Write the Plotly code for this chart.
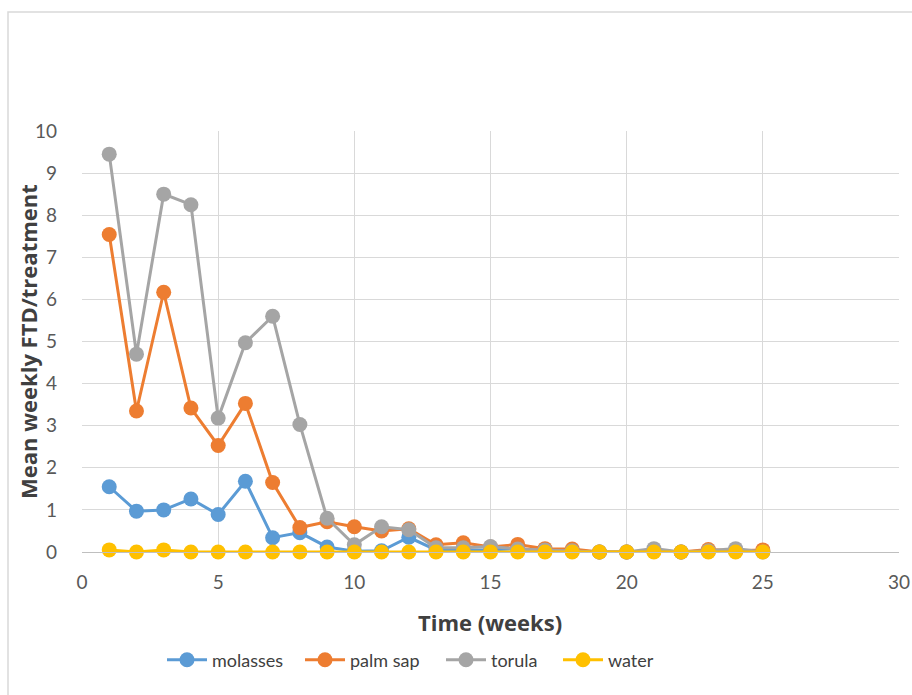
import plotly.graph_objects as go

weeks = list(range(1, 26))
molasses = [1.55, 0.97, 1.0, 1.26, 0.89, 1.68, 0.34, 0.46, 0.12, 0.02, 0.03, 0.35, 0.05, 0.05, 0.05, 0.08, 0.03, 0.03, 0.0, 0.0, 0.03, 0.0, 0.02, 0.03, 0.02]
palm_sap = [7.54, 3.35, 6.17, 3.42, 2.53, 3.53, 1.65, 0.58, 0.72, 0.6, 0.5, 0.55, 0.17, 0.22, 0.12, 0.18, 0.08, 0.07, 0.0, 0.0, 0.03, 0.0, 0.06, 0.03, 0.05]
torula = [9.45, 4.7, 8.5, 8.25, 3.18, 4.97, 5.6, 3.03, 0.8, 0.17, 0.6, 0.53, 0.1, 0.1, 0.13, 0.07, 0.05, 0.03, 0.0, 0.0, 0.08, 0.0, 0.03, 0.08, 0.0]
water = [0.05, 0.0, 0.05, 0.0, 0.0, 0.0, 0.0, 0.0, 0.0, 0.0, 0.0, 0.0, 0.0, 0.0, 0.0, 0.0, 0.0, 0.0, 0.0, 0.0, 0.0, 0.0, 0.0, 0.0, 0.0]

series = [
    ("molasses", molasses, "#5B9BD5"),
    ("palm sap", palm_sap, "#ED7D31"),
    ("torula", torula, "#A5A5A5"),
    ("water", water, "#FFC000"),
]
x_title = "Time (weeks)"
y_title = "Mean weekly FTD/treatment"

W, H = 912, 695
L, R, T, B = 82, 13, 131, 143
pw, ph = W - L - R, H - T - B
FONT = "Lato, Open Sans, Liberation Sans, sans-serif"
TFONT = "Open Sans, Lato, sans-serif"


def px_x(px):
    return (px - L) / pw


def px_y(py):
    return (T + ph - py) / ph


legend_ids = ["legend", "legend2", "legend3", "legend4"]
legend_px = [162, 300, 441, 558]

fig = go.Figure()
for (name, vals, col), lid in zip(series, legend_ids):
    fig.add_trace(go.Scatter(
        x=weeks, y=vals, name=name, mode="lines+markers",
        line=dict(color=col, width=3),
        marker=dict(color=col, size=15),
        cliponaxis=False, legend=lid,
    ))

layout_legends = {}
for lid, lx in zip(legend_ids, legend_px):
    layout_legends[lid] = dict(orientation="h", x=px_x(lx), xanchor="left", y=px_y(660), yanchor="middle",
                               font=dict(size=18, color="#404040"), itemwidth=40,
                               bgcolor="rgba(0,0,0,0)")

fig.update_layout(
    width=W, height=H,
    margin=dict(l=L, r=R, t=T, b=B, autoexpand=False),
    paper_bgcolor="white", plot_bgcolor="white",
    font=dict(family=FONT, size=19, color="#595959"),
    showlegend=True,
    xaxis=dict(range=[0, 30], dtick=5, tick0=0, showgrid=True, gridcolor="#D9D9D9", gridwidth=1,
               zeroline=False, showline=True, linecolor="#BFBFBF", linewidth=1, automargin=False,
               ticks="", ticklabelstandoff=13, tickfont=dict(size=19, color="#595959")),
    yaxis=dict(range=[0, 10], dtick=1, tick0=0, showgrid=True, gridcolor="#D9D9D9", gridwidth=1,
               zeroline=False, showline=False, ticks="", automargin=False, ticklabelstandoff=24,
               tickfont=dict(size=19, color="#595959")),
    **layout_legends,
)

fig.add_annotation(text="<b>%s</b>" % x_title, xref="paper", yref="paper",
                   x=px_x(490), y=px_y(622), xanchor="center", yanchor="middle", showarrow=False,
                   font=dict(family=TFONT, size=22, color="#404040"))
fig.add_annotation(text="<b>%s</b>" % y_title, xref="paper", yref="paper", textangle=-90,
                   x=px_x(28), y=px_y(342), xanchor="center", yanchor="middle", showarrow=False,
                   font=dict(family=TFONT, size=22, color="#404040"))

# Outer chart border (top and left edges visible)
fig.add_shape(type="rect", xref="paper", yref="paper",
              x0=px_x(8), x1=px_x(W + 5),
              y0=px_y(H + 5), y1=px_y(12),
              line=dict(color="#D9D9D9", width=1.5), layer="below")

fig.write_html("out.html", config={"displayModeBar": False},
               post_script="document.body.style.margin='0';document.body.style.padding='0';")
